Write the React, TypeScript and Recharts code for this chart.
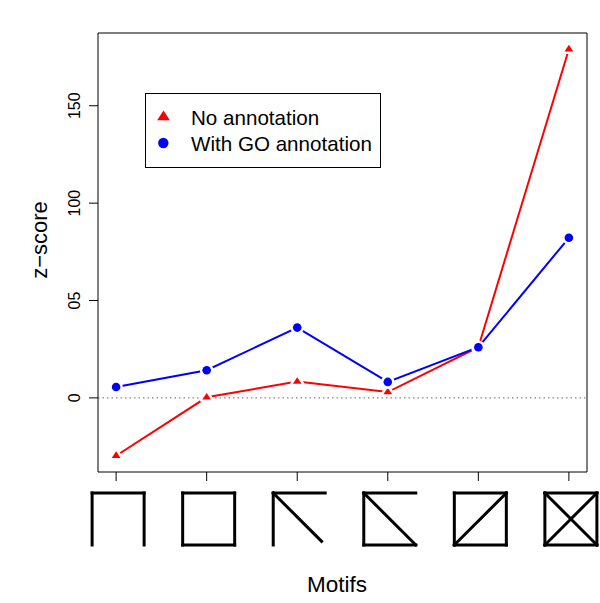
import { LineChart, Line, XAxis, YAxis, ReferenceLine, ReferenceArea } from 'recharts';

// motif glyphs drawn under the x axis, one per category
const MOTIFS = ['open3', 'square4', 'corner3diag', 'zdiag', 'squareDiag', 'squareCross'];
const NO_ANNOTATION = [-29.7, 0.3, 8.4, 3.0, 26, 179];
const WITH_GO = [5.6, 14.2, 36.1, 8.2, 26, 82.2];
const Y_TICKS = [0, 50, 100, 150];
const Y_TICK_LABELS = ['0', '05', '100', '150'];
const SERIES = [
  { key: 'noAnn', name: 'No annotation', color: '#ff0000', shape: 'triangle' },
  { key: 'withGo', name: 'With GO annotation', color: '#0000ff', shape: 'circle' },
];

// segments in a unit box (0,0 = top-left)
const MOTIF_SEGMENTS: Record<string, number[][]> = {
  open3: [[0, 1, 0, 0], [0, 0, 1, 0], [1, 0, 1, 1]],
  square4: [[0, 0, 1, 0], [1, 0, 1, 1], [1, 1, 0, 1], [0, 1, 0, 0]],
  corner3diag: [[0, 1, 0, 0], [0, 0, 1, 0], [0, 0, 0.93, 0.93]],
  zdiag: [[1, 0, 0, 0], [0, 0, 0, 1], [0, 1, 1, 1], [0, 0, 1, 1]],
  squareDiag: [[0, 0, 1, 0], [1, 0, 1, 1], [1, 1, 0, 1], [0, 1, 0, 0], [0, 1, 1, 0]],
  squareCross: [[0, 0, 1, 0], [1, 0, 1, 1], [1, 1, 0, 1], [0, 1, 0, 0], [0, 0, 1, 1], [0, 1, 1, 0]],
};

const FONT = '"Liberation Sans", Arial, Helvetica, sans-serif';

const data = MOTIFS.map((m, i) => ({
  x: i + 1,
  motif: m,
  noAnn: NO_ANNOTATION[i],
  withGo: WITH_GO[i],
}));

// R style 4% axis extension
const allY = [...NO_ANNOTATION, ...WITH_GO];
const yMin = Math.min(...allY);
const yMax = Math.max(...allY);
const yPad = (yMax - yMin) * 0.04;
const Y_DOMAIN = [yMin - yPad, yMax + yPad];
const X_DOMAIN = [1 - 0.2, MOTIFS.length + 0.2];

function Triangle({ cx, cy, color, halo, r = 4.4 }: any) {
  const xc = r * 0.866 * 1.15;
  const pts = `${cx},${cy - r} ${cx + xc},${cy + r / 2} ${cx - xc},${cy + r / 2}`;
  return (
    <polygon points={pts} fill={color} stroke={halo ? '#fff' : color} strokeWidth={halo ? 5 : 0}
      strokeLinejoin="round" style={{ paintOrder: 'stroke' }} />
  );
}

function renderDot(shape: string, color: string) {
  return (props: any) => {
    const { cx, cy, index } = props;
    if (cx == null || cy == null) return <g key={index} />;
    if (shape === 'triangle') return <Triangle key={index} cx={cx} cy={cy} color={color} halo />;
    return (
      <circle key={index} cx={cx} cy={cy} r={4.3} fill={color} stroke="#fff" strokeWidth={5}
        style={{ paintOrder: 'stroke' }} />
    );
  };
}

function MotifTick({ x, y, payload }: any) {
  const motif = MOTIFS[payload.value - 1];
  const segs = MOTIF_SEGMENTS[motif] || [];
  const size = 52;
  const left = x - 24;
  const top = y + 12;
  return (
    <g>
      {segs.map((s, i) => (
        <line key={i} x1={left + s[0] * size} y1={top + s[1] * size} x2={left + s[2] * size} y2={top + s[3] * size}
          stroke="#000" strokeWidth={3} strokeLinecap="square" />
      ))}
    </g>
  );
}

function ZTick({ x, y, payload }: any) {
  const label = Y_TICK_LABELS[Y_TICKS.indexOf(payload.value)];
  return (
    <text x={x - 9} y={y} transform={`rotate(-90 ${x - 9} ${y})`} textAnchor="middle"
      fontSize={16} fontFamily={FONT} fill="#000">
      {label}
    </text>
  );
}

function LegendBox() {
  return (
    <svg width={600} height={603} style={{ position: 'absolute', left: 0, top: 0, pointerEvents: 'none' }}>
      <rect x={145.5} y={93.5} width={235} height={74} fill="#fff" stroke="#000" strokeWidth={1} />
      {SERIES.map((s, i) => {
        const cy = 117 + i * 26;
        return (
          <g key={s.key}>
            {s.shape === 'triangle'
              ? <Triangle cx={163.5} cy={cy} color={s.color} r={6.4} />
              : <circle cx={163.3} cy={cy} r={5.2} fill={s.color} />}
            <text x={191} y={cy + 8} fontSize={20.6} fontFamily={FONT} fill="#000">{s.name}</text>
          </g>
        );
      })}
    </svg>
  );
}

export default function App() {
  return (
    <div style={{ position: 'absolute', left: 0, top: 0, width: 600, height: 603, background: '#fff' }}>
      <LineChart width={600} height={603} data={data} margin={{ top: 33, right: 13, bottom: 0, left: 0 }}>
        <XAxis
          dataKey="x" type="number" domain={X_DOMAIN} allowDataOverflow
          ticks={MOTIFS.map((_, i) => i + 1)} interval={0}
          axisLine={false} tickLine={{ stroke: '#000' }} tickSize={9} tickMargin={0}
          tick={<MotifTick />} height={131}
          label={() => (
            <text x={337} y={592} textAnchor="middle" fontSize={22.5} fontFamily={FONT} fill="#000">Motifs</text>
          )}
        />
        <YAxis
          type="number" domain={Y_DOMAIN} allowDataOverflow ticks={Y_TICKS} interval={0}
          axisLine={false} tickLine={{ stroke: '#000' }} tickSize={9} tickMargin={0}
          tick={<ZTick />} width={98}
          label={() => (
            <text x={46.5} y={240} transform="rotate(-90 46.5 240)" textAnchor="middle" fontSize={22}
              fontFamily={FONT} fill="#000">z−score</text>
          )}
        />
        <ReferenceArea x1={X_DOMAIN[0]} x2={X_DOMAIN[1]} y1={Y_DOMAIN[0]} y2={Y_DOMAIN[1]}
          fill="none" fillOpacity={0} stroke="#000" strokeWidth={1} ifOverflow="visible" />
        <ReferenceLine y={0} stroke="#666" strokeDasharray="1.5 3" strokeWidth={1} ifOverflow="visible" />
        {SERIES.map((s) => (
          <Line key={s.key} dataKey={s.key} name={s.name} stroke={s.color} strokeWidth={2}
            dot={renderDot(s.shape, s.color)} activeDot={false} isAnimationActive={false} />
        ))}
      </LineChart>
      <LegendBox />
    </div>
  );
}
